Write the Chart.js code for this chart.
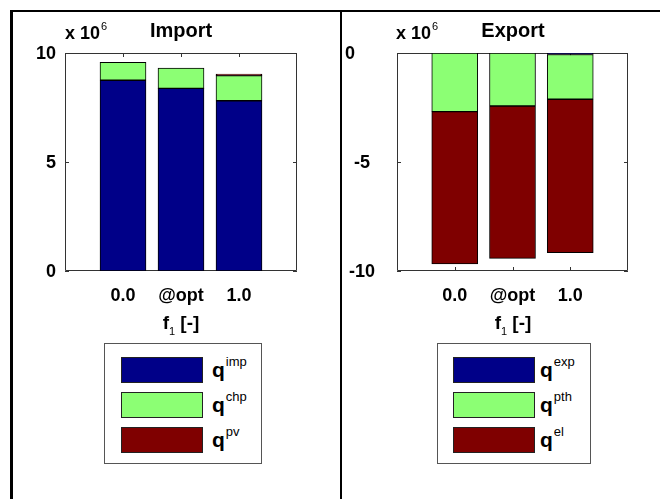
<!DOCTYPE html>
<html>
<head>
<meta charset="utf-8">
<script src="https://cdn.jsdelivr.net/npm/chart.js@4/dist/chart.umd.min.js"></script>
<style>
  html, body { margin: 0; padding: 0; }
  body { width: 660px; height: 499px; position: relative; overflow: hidden; background: #fff;
         font-family: 'Liberation Sans', Arial, Helvetica, sans-serif; color: #000; }
  .rule { position: absolute; background: #000; z-index: 5; }
  .cv { position: absolute; top: 0; height: 340px; }
  .txt { position: absolute; white-space: nowrap; font-weight: bold; line-height: 1; }
  .title { font-size: 20px; transform: translateX(-50%); }
  .mult { font-size: 18px; }
  .mult sup { font-size: 11px; font-weight: normal; position: relative; top: -3px; vertical-align: top; margin-left: 1px; }
  .xlab { font-size: 19px; transform: translateX(-50%); }
  .xlab sub { font-size: 11px; vertical-align: baseline; position: relative; top: 6px; font-weight: normal; }
  .legend { position: absolute; border: 1px solid #555; background: #fff; box-sizing: border-box; }
  .sw { position: absolute; border: 1px solid #222; box-sizing: border-box; width: 82px; height: 26px; }
  .lt { position: absolute; font-size: 21px; font-weight: bold; line-height: 1; white-space: nowrap; }
  .lt sup { font-size: 13px; font-weight: normal; vertical-align: top; position: relative; top: -4px; margin-left: 1px; }
</style>
</head>
<body>
<!-- table-cell rules around the two panels -->
<div class="rule" style="left:10px;top:10px;width:650px;height:1.5px"></div>
<div class="rule" style="left:10px;top:10px;width:15px;height:2px"></div>
<div class="rule" style="left:327px;top:10px;width:28px;height:2px"></div>
<div class="rule" style="left:656px;top:10px;width:4px;height:2px"></div>
<div class="rule" style="left:10px;top:10px;width:2.5px;height:489px"></div>
<div class="rule" style="left:340px;top:10px;width:2px;height:489px"></div>

<canvas id="cImport" class="cv" style="left:0;width:340px" width="340" height="340"></canvas>
<canvas id="cExport" class="cv" style="left:332px;width:328px" width="328" height="340"></canvas>

<div class="txt title" style="left:181px;top:20px">Import</div>
<div class="txt mult" style="left:65px;top:24px">x 10<sup>6</sup></div>
<div class="txt xlab" style="left:181px;top:313px">f<sub>1</sub> [-]</div>

<div class="txt title" style="left:513px;top:20px">Export</div>
<div class="txt mult" style="left:396px;top:24px">x 10<sup>6</sup></div>
<div class="txt xlab" style="left:513px;top:313px">f<sub>1</sub> [-]</div>

<div id="legImport" class="legend" style="left:104px;top:343px;width:158px;height:121px"></div>
<div id="legExport" class="legend" style="left:437px;top:343px;width:154px;height:121px"></div>

<script>
// Weighting factor cases on the x axis
const categories = ['0.0', '@opt', '1.0'];

// Import side (positive), in J
const qImp = [8.75e6, 8.38e6, 7.81e6];
const qChp = [0.82e6, 0.93e6, 1.15e6];
const qPv  = [0, 0, 0.07e6];

// Export side (negative), in J
const qExp = [0, 0, -0.07e6];
const qPth = [-2.69e6, -2.43e6, -2.05e6];
const qEl  = [-6.99e6, -6.99e6, -7.04e6];

// Y tick values (scaled by 1e6 in the labels)
const importTicks = [0, 5e6, 10e6];
const exportTicks = [-10e6, -5e6, 0];

const BLUE = '#000088', GREEN = '#8cff74', RED = '#7f0000';
const FONT = { family: "'Liberation Sans', Arial, sans-serif", size: 18, weight: 'bold' };
const fmt = v => String(v / 1e6);

// pad the category axis with empty slots so bars sit at 1..3 on a 0..4 range
const xLabels = ['', ...categories, ''];
const pad = arr => [null, ...arr, null];

// axes box with inward tick marks, drawn under the bars
const axesBox = {
  id: 'axesBox',
  beforeDatasetsDraw(chart) {
    const { ctx, chartArea: a, scales: { x, y } } = chart;
    const L = 4;
    ctx.save();
    ctx.strokeStyle = '#333';
    ctx.lineWidth = 1;
    ctx.beginPath();
    ctx.rect(Math.round(a.left) + 0.5, Math.round(a.top) + 0.5,
             Math.round(a.right - a.left) - 1, Math.round(a.bottom - a.top) - 1);
    y.ticks.forEach(t => {
      const py = Math.round(y.getPixelForValue(t.value)) + 0.5;
      ctx.moveTo(a.left, py); ctx.lineTo(a.left + L, py);
      ctx.moveTo(a.right, py); ctx.lineTo(a.right - L, py);
    });
    categories.forEach((c, i) => {
      const px = Math.round(x.getPixelForValue(i + 1)) + 0.5;
      ctx.moveTo(px, a.bottom); ctx.lineTo(px, a.bottom - L);
      ctx.moveTo(px, a.top); ctx.lineTo(px, a.top + L);
    });
    ctx.stroke();
    ctx.restore();
  }
};

// y tick labels drawn with an individual gap to the axis for each tick
const yLabels = {
  id: 'yLabels',
  afterDraw(chart, args, opts) {
    const { ctx, chartArea: a, scales: { y } } = chart;
    ctx.save();
    ctx.font = `${FONT.weight} ${FONT.size}px ${FONT.family}`;
    ctx.fillStyle = '#000';
    ctx.textAlign = 'right';
    ctx.textBaseline = 'middle';
    y.ticks.forEach((t, i) => {
      ctx.fillText(fmt(t.value), a.left - opts.gaps[i], y.getPixelForValue(t.value) + 1);
    });
    ctx.restore();
  }
};

function makeChart(id, sets, ticks, padRight, gaps) {
  const tickVals = ticks;
  return new Chart(document.getElementById(id), {
    type: 'bar',
    data: {
      labels: xLabels,
      datasets: sets.map(s => ({
        label: s.label,
        data: pad(s.data),
        backgroundColor: s.color,
        borderColor: '#000',
        borderWidth: 1,
        borderSkipped: false,
        barThickness: 46
      }))
    },
    options: {
      responsive: false,
      animation: false,
      events: [],
      layout: { padding: { left: 25, right: padRight, top: 53, bottom: 29 } },
      plugins: {
        legend: { display: false }, tooltip: { enabled: false }, title: { display: false },
        yLabels: { gaps }
      },
      scales: {
        x: {
          stacked: true,
          offset: false,
          grid: { display: false, drawTicks: false },
          border: { display: false },
          ticks: { font: FONT, color: '#000', padding: 14, autoSkip: false, maxRotation: 0 },
          afterFit(s) { s.height = 40; }
        },
        y: {
          stacked: true,
          min: tickVals[0],
          max: tickVals[tickVals.length - 1],
          grid: { display: false, drawTicks: false },
          border: { display: false },
          afterBuildTicks(s) { s.ticks = tickVals.map(v => ({ value: v })); },
          ticks: { display: false },
          afterFit(s) { s.width = 40; }
        }
      }
    },
    plugins: [axesBox, yLabels]
  });
}

const importSets = [
  { label: 'imp', data: qImp, color: BLUE },
  { label: 'chp', data: qChp, color: GREEN },
  { label: 'pv',  data: qPv,  color: RED }
];
const exportSets = [
  { label: 'exp', data: qExp, color: BLUE },
  { label: 'pth', data: qPth, color: GREEN },
  { label: 'el',  data: qEl,  color: RED }
];

// gaps listed bottom tick first
makeChart('cImport', importSets, importTicks, 43, [9, 9, 9]);
makeChart('cExport', exportSets, exportTicks, 32, [22, 27, 42]);

// legend boxes: coloured swatch + q with superscript
function buildLegend(id, sets, swLeft, textLeft) {
  const box = document.getElementById(id);
  sets.forEach((s, i) => {
    const sw = document.createElement('div');
    sw.className = 'sw';
    sw.style.left = swLeft + 'px';
    sw.style.top = (13 + i * 35) + 'px';
    sw.style.background = s.color;
    box.appendChild(sw);
    const t = document.createElement('div');
    t.className = 'lt';
    t.style.left = textLeft + 'px';
    t.style.top = (15 + i * 35) + 'px';
    t.innerHTML = 'q<sup>' + s.label + '</sup>';
    box.appendChild(t);
  });
}
buildLegend('legImport', importSets, 16, 107);
buildLegend('legExport', exportSets, 15, 102);
</script>
</body>
</html>
